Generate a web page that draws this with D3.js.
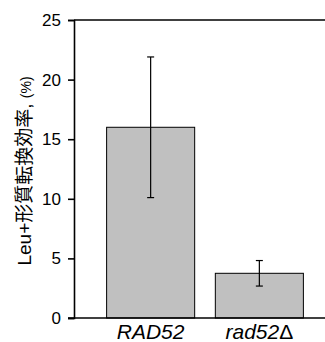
<!DOCTYPE html>
<html>
<head>
<meta charset="utf-8">
<script src="https://cdn.jsdelivr.net/npm/d3@7"></script>
<style>
  body { margin: 0; background: #fff; }
  svg { display: block; font-family: "Liberation Sans", Arial, sans-serif; }
</style>
</head>
<body>
<svg id="chart" width="325" height="342"></svg>
<script>
// data
const categories = ['RAD52', 'rad52'];
const values = [16.0, 3.75];
const errors = [5.9, 1.07];
const yTicks = [0, 5, 10, 15, 20, 25];

const width = 325, height = 342;
const margin = { top: 20, right: -11, bottom: 24, left: 74 };

const svg = d3.select('#chart');

const x = d3.scaleBand()
  .domain(categories)
  .range([margin.left, width - margin.right])
  .paddingInner(0.19)
  .paddingOuter(0.3);

const y = d3.scaleLinear()
  .domain([0, 25])
  .range([height - margin.bottom, margin.top]);

// bars
svg.append('g')
  .selectAll('rect')
  .data(categories)
  .join('rect')
  .attr('x', d => x(d))
  .attr('y', (d, i) => y(values[i]))
  .attr('width', x.bandwidth())
  .attr('height', (d, i) => y(0) - y(values[i]))
  .attr('fill', '#c0c0c0')
  .attr('stroke', '#000')
  .attr('stroke-width', 1);

// error bars
const err = svg.append('g').attr('stroke', '#000').attr('stroke-width', 1.2);
categories.forEach((c, i) => {
  const cx = x(c) + x.bandwidth() / 2;
  const lo = y(values[i] - errors[i]), hi = y(values[i] + errors[i]);
  err.append('line').attr('x1', cx).attr('x2', cx).attr('y1', lo).attr('y2', hi);
  err.append('line').attr('x1', cx - 3.5).attr('x2', cx + 3.5).attr('y1', lo).attr('y2', lo);
  err.append('line').attr('x1', cx - 3.5).attr('x2', cx + 3.5).attr('y1', hi).attr('y2', hi);
});

// top frame line
svg.append('line')
  .attr('x1', margin.left).attr('x2', width)
  .attr('y1', y(25)).attr('y2', y(25))
  .attr('stroke', '#000').attr('stroke-width', 1.6);

// bottom line
svg.append('line')
  .attr('x1', margin.left - 6).attr('x2', width)
  .attr('y1', y(0)).attr('y2', y(0))
  .attr('stroke', '#000').attr('stroke-width', 1.6);

// y axis
const yAxis = svg.append('g')
  .attr('transform', `translate(${margin.left},0)`)
  .call(d3.axisLeft(y).tickValues(yTicks).tickSize(6).tickPadding(7));
yAxis.select('.domain').attr('stroke-width', 1.6);
yAxis.selectAll('.tick line').attr('stroke-width', 1.6);
yAxis.selectAll('.tick text')
  .attr('font-size', 17)
  .attr('font-family', '"Liberation Sans", Arial, sans-serif')
  .attr('fill', '#000');

// x labels (delta sign kept upright as in the figure)
const xl = svg.append('g')
  .selectAll('text')
  .data(categories)
  .join('text')
  .attr('x', d => x(d) + x.bandwidth() / 2)
  .attr('y', y(0) + 21)
  .attr('text-anchor', 'middle')
  .attr('font-size', 21);
xl.append('tspan').attr('font-style', 'italic').text(d => d);
xl.filter((d, i) => i === 1).append('tspan').text('\u0394');

// y label
const yl = svg.append('text')
  .attr('transform', `translate(31,${(y(0) + y(25)) / 2 + 2}) rotate(-90)`)
  .attr('text-anchor', 'middle')
  .attr('font-size', 19)
  .attr('font-family', '"Liberation Sans", "Noto Sans CJK JP", sans-serif');
yl.append('tspan').text('Leu+形質転換効率, ');
yl.append('tspan').attr('font-size', 14).text('(%)');
</script>
</body>
</html>
